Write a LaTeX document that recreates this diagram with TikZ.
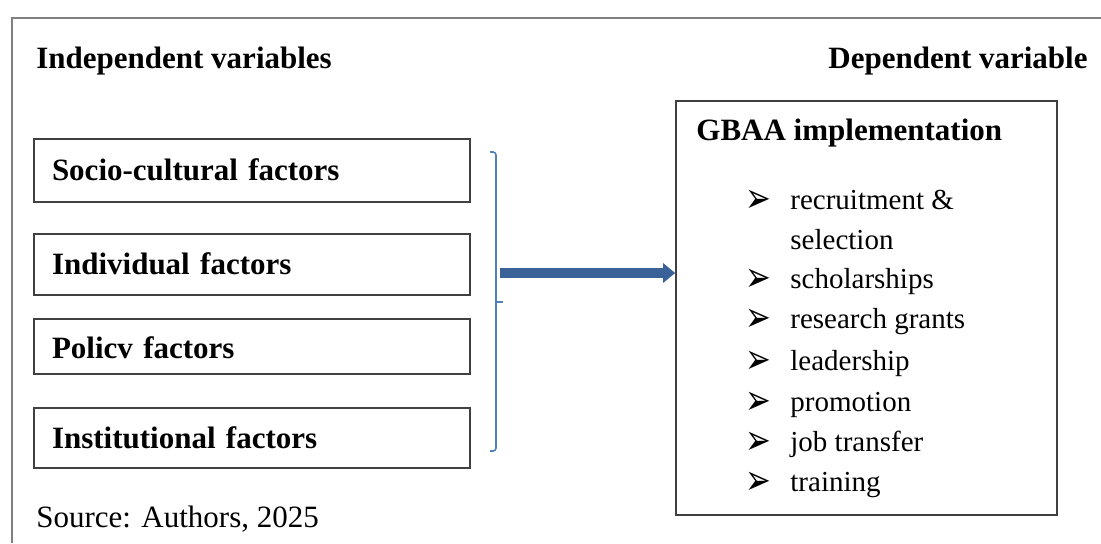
\documentclass[tikz,border=0pt]{standalone}
\usepackage{fontspec}
\setmainfont{Liberation Serif}
\newfontfamily\dingfont{DejaVu Sans}
\usepackage{tikz}
\usetikzlibrary{arrows.meta}

\definecolor{bracketblue}{RGB}{79,129,189}
\definecolor{arrowblue}{RGB}{58,98,152}

\tikzset{
  factor/.style={draw=black!75, line width=0.8pt, rectangle, text width=200pt, inner xsep=9pt, align=left, text height=10pt, text depth=0pt, font=\fontsize{15.5}{18}\selectfont\bfseries},
  heading/.style={anchor=base west, inner sep=0pt, font=\fontsize{15.5}{18}\selectfont\bfseries},
  item/.style={anchor=base west, inner sep=0pt, font=\fontsize{14.5}{20}\selectfont},
  bullet/.style={anchor=base west, inner sep=0pt, font=\dingfont\fontsize{14}{16}\selectfont},
}

\begin{document}
\begin{tikzpicture}[x=0.5pt,y=-0.5pt]
  \useasboundingbox (0,0) rectangle (1101,543);
  % frame
  \draw[black!50, line width=0.6pt] (12,543) -- (12,18) -- (1101,18);
  % titles
  \node[heading] (indep) at (36,68) {Independent variables};
  \node[heading] (depvar) at (828,68) {Dependent variable};
  % factor boxes
  \node[factor, minimum height=31.5pt] (socio) at (252,170.5) {Socio-cultural factors};
  \node[factor, minimum height=30.5pt] (indiv) at (252,264.5) {Individual factors};
  \node[factor, minimum height=27.5pt, text height=12pt] (policy) at (252,346.5) {Policv factors};
  \node[factor, minimum height=30pt] (inst) at (252,438) {Institutional factors};
  \node[anchor=base west, inner sep=0pt, font=\fontsize{15.5}{18}\selectfont] (source) at (36,527) {Source: Authors, 2025};
  % bracket
  \draw[bracketblue, line width=0.8pt, rounded corners=1.5pt] (490,152) -- (496,152) -- (496,451) -- (490,451);
  \draw[bracketblue, line width=0.8pt] (496,302) -- (503,302);
  \coordinate (brk) at (500,273);
  % dependent box
  \node[draw=black!75, line width=0.8pt, minimum width=190.5pt, minimum height=207pt, inner sep=0pt] (gbaabox) at (866.5,308) {};
  \node[heading] (gbaa) at (696,140) {GBAA implementation};
  \foreach \y/\txt [count=\i] in {209/recruitment \&, 288/scholarships, 328/research grants, 370/leadership, 411/promotion, 451/job transfer, 491/training} {
    \node[bullet] (b\i) at (745,\y+3) {\smash{\scalebox{1.1}[1.5]{➢}}};
    \node[item] (t\i) at (790,\y) {\txt};
  }
  \node[item] (t1b) at (790,249) {selection};
  % arrow
  \draw[arrowblue, line width=5pt, -{Triangle[length=6pt,width=9.5pt]}] (brk) -- (brk -| gbaabox.west);
\end{tikzpicture}
\end{document}
